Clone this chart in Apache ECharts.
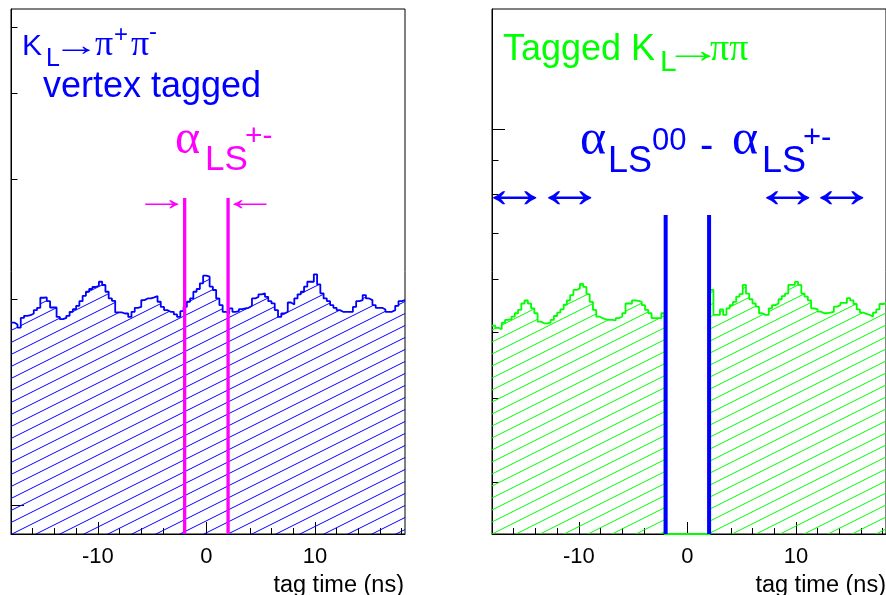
<!DOCTYPE html>
<html><head><meta charset="utf-8">
<script src="https://cdn.jsdelivr.net/npm/echarts@6/dist/echarts.min.js"></script>
<style>html,body{margin:0;padding:0;background:#fff}#c{width:886px;height:595px}</style>
</head><body><div id="c"></div>
<script>
// ---- data ----
const binStart = -18;
const binWidth = 0.3;
const xMax = 18.3;
// K_L -> pi+ pi- vertex tagged (left panel), counts per 0.3 ns bin
const pipiCounts = [
 1850,1838,1819,1879,1892,1896,1907,1929,1944,2011,
 2013,1988,1946,1946,1885,1871,1879,1892,1918,1935,
 1957,1988,2024,2052,2071,2085,2094,2122,2099,2052,
 2006,1990,1914,1914,1907,1907,1885,1918,1944,1950,
 1995,2006,2006,2013,2022,1984,1950,1929,1918,1918,
 1901,1885,1922,1950,1984,2006,2052,2071,2111,2166,
 2159,2087,2064,2006,1962,1918,1907,1940,1918,1922,
 1935,1940,1944,1957,2006,2017,2034,2041,2017,1988,
 1973,1929,1885,1907,1918,1979,1966,2006,2034,2052,
 2087,2122,2122,2176,2104,2041,2006,1988,1962,1944,
 1929,1918,1918,1918,1918,1950,1988,1995,2029,2006,
 1995,1962,1944,1944,1933,1918,1918,1929,1957,1988,1995
];
// Tagged K_L -> pi pi (right panel)
const tagCounts = [
 512,508,506,517,522,523,528,534,540,552,
 558,552,543,534,519,516,516,517,522,529,
 535,541,550,558,568,578,581,590,584,570,
 555,540,528,525,523,522,522,521,525,528,
 534,552,552,558,557,555,549,540,534,525,
 525,525,534,0,0,0,0,0,0,0,
 0,0,0,0,0,0,0,578,531,531,
 541,531,543,549,555,565,570,588,571,560,
 552,546,534,531,531,543,549,552,560,566,
 571,588,588,594,588,571,565,558,543,541,
 537,534,534,535,537,546,549,553,553,562,
 558,551,541,535,533,531,528,535,541,551,552
];
const xLabelTicks = [-10, 0, 10];
const xMinorTicks = [-16,-14,-12,-8,-6,-4,-2,2,4,6,8,12,14,16,18];
const leftMajorY = [1000];
const leftMinorY = [2000, 3000, 4000, 5000];
const rightMajorY = [1000];
const rightMinorY = [300, 400, 500, 600, 700, 800, 900];
const leftYRange = [908, 5314];
const rightYRange = [252, 1503];
const cutTimes = [-2, 2];
const leftCutTop = 2813;
const rightCutTop = 746;
const xTitle = 'tag time (ns)';

// ---- helpers ----
function stepData(counts, floor) {
  const d = counts.map((c, i) => [binStart + i * binWidth, c > 0 ? c : floor]);
  const last = counts[counts.length - 1];
  d.push([xMax, last > 0 ? last : floor]);
  return d;
}
function hatch(color) {
  const W = 24, H = 12;
  const cv = document.createElement('canvas');
  cv.width = W; cv.height = H;
  const ctx = cv.getContext('2d');
  ctx.strokeStyle = color; ctx.lineWidth = 1;
  for (let k = -1; k <= 1; k++) {
    ctx.beginPath();
    ctx.moveTo(-W, 2 * H + k * H);
    ctx.lineTo(2 * W, -H + k * H);
    ctx.stroke();
  }
  return { image: cv, repeat: 'repeat' };
}
const SANS = '"Liberation Sans", Arial, sans-serif';
const SERIF = '"Liberation Serif", "Times New Roman", serif';
function txt(text, x, y, size, fam, color, sx, align) {
  return { type: 'text', x: x, y: y, z: 100, scaleX: sx || 1,
    style: { text: text, font: size + 'px ' + fam, fill: color, align: align || 'left', verticalAlign: 'middle' } };
}

const grids = [
  { left: 11, top: 9, width: 394, height: 525, show: true, borderColor: '#000', borderWidth: 1 },
  { left: 492, top: 9, width: 394, height: 525, show: true, borderColor: '#000', borderWidth: 1 }
];
function xAxes(gi) {
  return [
    { type: 'value', gridIndex: gi, position: 'bottom', min: binStart, max: xMax,
      axisLine: { show: true, onZero: false, lineStyle: { color: '#000', width: 1 } },
      axisTick: { show: true, inside: true, length: 12, customValues: xLabelTicks, lineStyle: { color: '#000' } },
      axisLabel: { show: true, customValues: xLabelTicks, margin: 12, color: '#000', fontSize: 22, fontFamily: SANS },
      splitLine: { show: false } },
    { type: 'value', gridIndex: gi, position: 'bottom', min: binStart, max: xMax,
      axisLine: { show: false, onZero: false },
      axisTick: { show: true, inside: true, length: 6, customValues: xMinorTicks, lineStyle: { color: '#000' } },
      axisLabel: { show: false }, splitLine: { show: false } }
  ];
}
function yAxes(gi, range, major, minor) {
  return [
    { type: 'log', gridIndex: gi, position: 'left', min: range[0], max: range[1],
      axisLine: { show: true, onZero: false, lineStyle: { color: '#000', width: 1 } },
      axisTick: { show: true, inside: true, length: 13, customValues: major, lineStyle: { color: '#000' } },
      axisLabel: { show: false }, splitLine: { show: false }, minorTick: { show: false } },
    { type: 'log', gridIndex: gi, position: 'left', min: range[0], max: range[1],
      axisLine: { show: false, onZero: false },
      axisTick: { show: true, inside: true, length: 6.5, customValues: minor, lineStyle: { color: '#000' } },
      axisLabel: { show: false }, splitLine: { show: false }, minorTick: { show: false } }
  ];
}

const chart = echarts.init(document.getElementById('c'), null, { renderer: 'canvas' });
const option = {
  animation: false,
  backgroundColor: '#fff',
  grid: grids,
  xAxis: [...xAxes(0), ...xAxes(1)],
  yAxis: [...yAxes(0, leftYRange, leftMajorY, leftMinorY), ...yAxes(1, rightYRange, rightMajorY, rightMinorY)],
  series: [
    { type: 'line', xAxisIndex: 0, yAxisIndex: 0, step: 'end', showSymbol: false, symbol: 'none',
      data: stepData(pipiCounts, leftYRange[0]),
      lineStyle: { color: '#0000ff', width: 1.8 },
      areaStyle: { color: hatch('#0000ff'), opacity: 1, origin: 'start' } },
    { type: 'line', xAxisIndex: 2, yAxisIndex: 2, step: 'end', showSymbol: false, symbol: 'none',
      data: stepData(tagCounts, rightYRange[0]),
      lineStyle: { color: '#00ff00', width: 1.8 },
      areaStyle: { color: hatch('#00ff00'), opacity: 1, origin: 'start' } },
    ...cutTimes.map(t => ({ type: 'line', xAxisIndex: 0, yAxisIndex: 0, showSymbol: false, symbol: 'none', z: 5,
      data: [[t, leftYRange[0]], [t, leftCutTop]], lineStyle: { color: '#ff00ff', width: 3.3 } })),
    ...cutTimes.map(t => ({ type: 'line', xAxisIndex: 2, yAxisIndex: 2, showSymbol: false, symbol: 'none', z: 5,
      data: [[t, rightYRange[0]], [t, rightCutTop]], lineStyle: { color: '#0000ff', width: 4 } }))
  ],
  graphic: [
    // axis titles
    txt(xTitle, 404, 586, 23.5, SANS, '#000', 1, 'right'),
    txt(xTitle, 886, 586, 23.5, SANS, '#000', 1, 'right'),
    // left panel labels
    txt('K', 22, 46.5, 30, SANS, '#0000ff'),
    txt('L', 46, 59, 25, SANS, '#0000ff'),
    txt('\u2192', 53, 47, 30, SERIF, '#0000ff', 1.55),
    txt('\u03c0', 95, 46, 36, SERIF, '#0000ff'),
    txt('+', 114, 35.5, 24, SANS, '#0000ff'),
    txt('\u03c0', 131, 46, 36, SERIF, '#0000ff'),
    txt('-', 149, 32, 24, SANS, '#0000ff'),
    txt('vertex tagged', 43, 87.4, 36, SANS, '#0000ff'),
    txt('\u03b1', 175, 140, 48, SERIF, '#ff00ff'),
    txt('LS', 205, 160, 35, SANS, '#ff00ff'),
    txt('+-', 245, 137, 30, SANS, '#ff00ff'),
    txt('\u2192', 134, 201, 35, SERIF, '#ff00ff', 1.6),
    txt('\u2190', 222, 201, 35, SERIF, '#ff00ff', 1.6),
    // right panel labels
    txt('Tagged K', 503, 50.4, 36, SANS, '#00ff00'),
    txt('L', 660, 63, 30, SANS, '#00ff00'),
    txt('\u2192', 664, 53, 36, SERIF, '#00ff00', 1.64),
    txt('\u03c0\u03c0', 710, 50, 38, SERIF, '#00ff00'),
    txt('\u03b1', 580, 140.5, 50, SERIF, '#0000ff'),
    txt('LS', 608, 162.4, 36, SANS, '#0000ff'),
    txt('00', 652, 141, 31, SANS, '#0000ff'),
    txt('-', 700, 147, 40, SANS, '#0000ff'),
    txt('\u03b1', 732, 140.5, 50, SERIF, '#0000ff'),
    txt('LS', 762, 162.4, 36, SANS, '#0000ff'),
    txt('+-', 803, 138, 31, SANS, '#0000ff'),
    txt('\u2194', 478, 192, 56, SERIF, '#0000ff', 1.3),
    txt('\u2194', 533, 192, 56, SERIF, '#0000ff', 1.3),
    txt('\u2194', 751, 192, 56, SERIF, '#0000ff', 1.3),
    txt('\u2194', 805, 192, 56, SERIF, '#0000ff', 1.3)
  ]
};
chart.setOption(option);
</script></body></html>
